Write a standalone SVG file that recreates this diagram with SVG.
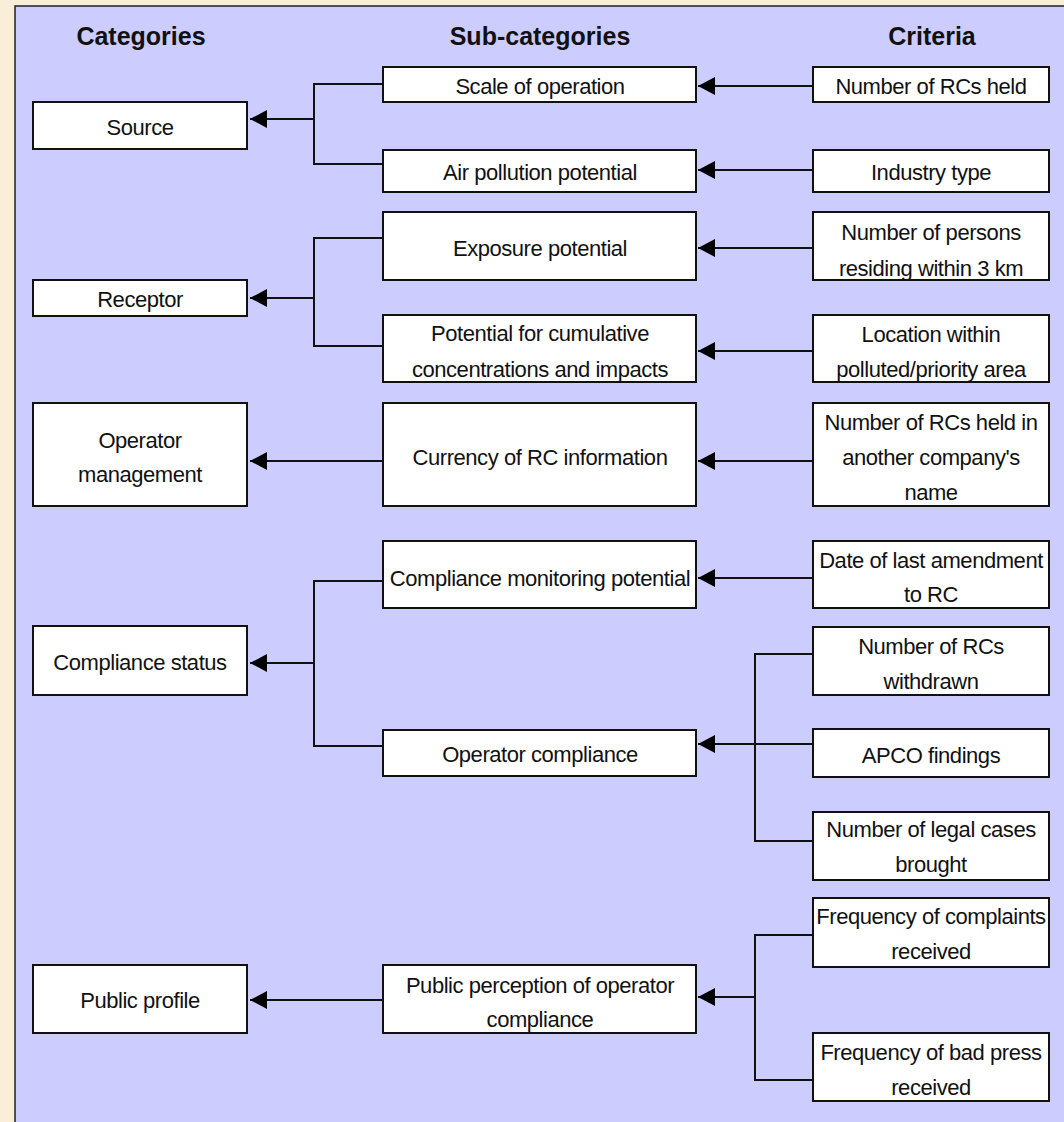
<svg xmlns="http://www.w3.org/2000/svg" width="1064" height="1122" viewBox="0 0 1064 1122">
<defs>
<style>
.bx{fill:#fff;stroke:#111;stroke-width:2}
.t{font-family:"Liberation Sans",Arial,sans-serif;font-size:22px;letter-spacing:-0.45px;fill:#111;text-anchor:middle}
.h{font-family:"Liberation Sans",Arial,sans-serif;font-size:25px;font-weight:bold;fill:#111;text-anchor:middle}
.c{fill:none;stroke:#111;stroke-width:2}
</style>
<marker id="ah" markerWidth="18" markerHeight="20" refX="17" refY="10" orient="auto" markerUnits="userSpaceOnUse">
<path d="M0,10 L17,1 L17,19 Z" fill="#000" transform="rotate(180 8.5 10) translate(-0 0)"/>
</marker>
</defs>
<rect x="0" y="0" width="1064" height="1122" fill="#F9EFD9"/>
<rect x="15" y="6" width="1070" height="1130" fill="#CCCCFF" stroke="#222" stroke-width="1.5"/>

<g id="headers">
<text class="h" x="141" y="45">Categories</text>
<text class="h" x="540" y="45">Sub-categories</text>
<text class="h" x="932" y="45">Criteria</text>
</g>

<g id="connectors">
<path class="c" d="M383,84 H314 V164 H383"/>
<path class="c" d="M314,119 H250" marker-end="url(#ah)"/>
<path class="c" d="M813,86 H698" marker-end="url(#ah)"/>
<path class="c" d="M813,170 H698" marker-end="url(#ah)"/>
<path class="c" d="M383,238 H314 V346 H383"/>
<path class="c" d="M314,298 H250" marker-end="url(#ah)"/>
<path class="c" d="M813,248 H698" marker-end="url(#ah)"/>
<path class="c" d="M813,351 H698" marker-end="url(#ah)"/>
<path class="c" d="M383,461 H250" marker-end="url(#ah)"/>
<path class="c" d="M813,461 H698" marker-end="url(#ah)"/>
<path class="c" d="M383,581 H314 V746 H383"/>
<path class="c" d="M314,663 H250" marker-end="url(#ah)"/>
<path class="c" d="M813,578 H698" marker-end="url(#ah)"/>
<path class="c" d="M813,654 H755 V841 H813"/>
<path class="c" d="M813,744 H698" marker-end="url(#ah)"/>
<path class="c" d="M383,1000 H250" marker-end="url(#ah)"/>
<path class="c" d="M813,935 H755 V1080 H813"/>
<path class="c" d="M755,997 H698" marker-end="url(#ah)"/>
</g>

<g id="source"><rect class="bx" x="33" y="102" width="214" height="47"/><text class="t" x="140" y="135">Source</text></g>
<g id="receptor"><rect class="bx" x="33" y="280" width="214" height="36"/><text class="t" x="140" y="307">Receptor</text></g>
<g id="operator-management"><rect class="bx" x="33" y="403" width="214" height="103"/><text class="t" x="140" y="448">Operator</text><text class="t" x="140" y="482">management</text></g>
<g id="compliance-status"><rect class="bx" x="33" y="626" width="214" height="69"/><text class="t" x="140" y="670">Compliance status</text></g>
<g id="public-profile"><rect class="bx" x="33" y="965" width="214" height="68"/><text class="t" x="140" y="1008">Public profile</text></g>

<g id="scale-of-operation"><rect class="bx" x="383" y="67" width="313" height="35"/><text class="t" x="540" y="94">Scale of operation</text></g>
<g id="air-pollution-potential"><rect class="bx" x="383" y="150" width="313" height="42"/><text class="t" x="540" y="180">Air pollution potential</text></g>
<g id="exposure-potential"><rect class="bx" x="383" y="212" width="313" height="68"/><text class="t" x="540" y="256">Exposure potential</text></g>
<g id="cumulative"><rect class="bx" x="383" y="315" width="313" height="67"/><text class="t" x="540" y="341">Potential for cumulative</text><text class="t" x="540" y="377">concentrations and impacts</text></g>
<g id="currency"><rect class="bx" x="383" y="403" width="313" height="103"/><text class="t" x="540" y="465">Currency of RC information</text></g>
<g id="compliance-monitoring"><rect class="bx" x="383" y="541" width="313" height="67"/><text class="t" x="540" y="586">Compliance monitoring potential</text></g>
<g id="operator-compliance"><rect class="bx" x="383" y="730" width="313" height="46"/><text class="t" x="540" y="762">Operator compliance</text></g>
<g id="public-perception"><rect class="bx" x="383" y="965" width="313" height="68"/><text class="t" x="540" y="993">Public perception of operator</text><text class="t" x="540" y="1027">compliance</text></g>

<g id="rcs-held"><rect class="bx" x="813" y="67" width="236" height="35"/><text class="t" x="931" y="94">Number of RCs held</text></g>
<g id="industry-type"><rect class="bx" x="813" y="150" width="236" height="42"/><text class="t" x="931" y="180">Industry type</text></g>
<g id="persons"><rect class="bx" x="813" y="212" width="236" height="68"/><text class="t" x="931" y="240">Number of persons</text><text class="t" x="931" y="276">residing within 3 km</text></g>
<g id="location"><rect class="bx" x="813" y="315" width="236" height="67"/><text class="t" x="931" y="342">Location within</text><text class="t" x="931" y="377">polluted/priority area</text></g>
<g id="rcs-another"><rect class="bx" x="813" y="403" width="236" height="103"/><text class="t" x="931" y="430">Number of RCs held in</text><text class="t" x="931" y="465">another company's</text><text class="t" x="931" y="500">name</text></g>
<g id="date-amendment"><rect class="bx" x="813" y="541" width="236" height="67"/><text class="t" x="931" y="568">Date of last amendment</text><text class="t" x="931" y="602">to RC</text></g>
<g id="rcs-withdrawn"><rect class="bx" x="813" y="627" width="236" height="68"/><text class="t" x="931" y="654">Number of RCs</text><text class="t" x="931" y="689">withdrawn</text></g>
<g id="apco"><rect class="bx" x="813" y="729" width="236" height="48"/><text class="t" x="931" y="763">APCO findings</text></g>
<g id="legal-cases"><rect class="bx" x="813" y="812" width="236" height="68"/><text class="t" x="931" y="837">Number of legal cases</text><text class="t" x="931" y="872">brought</text></g>
<g id="complaints"><rect class="bx" x="813" y="898" width="236" height="69"/><text class="t" x="931" y="924">Frequency of complaints</text><text class="t" x="931" y="959">received</text></g>
<g id="bad-press"><rect class="bx" x="813" y="1033" width="236" height="68"/><text class="t" x="931" y="1060">Frequency of bad press</text><text class="t" x="931" y="1095">received</text></g>
</svg>
